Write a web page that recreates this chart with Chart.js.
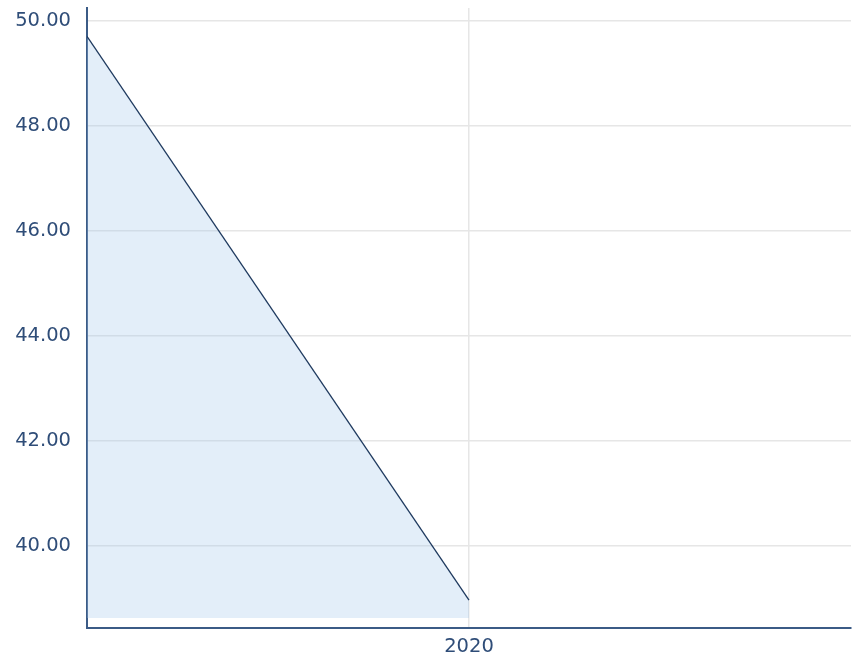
<!DOCTYPE html>
<html>
<head>
<meta charset="utf-8">
<script src="https://cdn.jsdelivr.net/npm/chart.js@4"></script>
<style>
  html, body { margin: 0; padding: 0; background: #fff; }
  #wrap { width: 854px; height: 661px; }
</style>
</head>
<body>
<div id="wrap"><canvas id="chart"></canvas></div>
<script>
// data
const years = [2019, 2020];
const values = [49.71, 38.97];
const yTicks = [40, 42, 44, 46, 48, 50];
const xTicks = [2020];

const axisColor = "#3b5b86";
const textColor = "#2f4d78";

const ctx = document.getElementById("chart").getContext("2d");
new Chart(ctx, {
  type: "line",
  data: {
    datasets: [{
      data: years.map((y, i) => ({ x: y, y: values[i] })),
      borderColor: "#1f3a5f",
      borderWidth: 1.3,
      backgroundColor: "rgba(162,198,235,0.3)",
      fill: { value: 38.63 },
      pointRadius: 0,
      tension: 0
    }]
  },
  options: {
    responsive: true,
    maintainAspectRatio: false,
    animation: false,
    layout: { padding: { top: 8, right: 3, left: 0, bottom: 0 } },
    plugins: { legend: { display: false }, tooltip: { enabled: false } },
    scales: {
      x: {
        type: "linear",
        min: 2019,
        max: 2021,
        afterBuildTicks: s => { s.ticks = xTicks.map(v => ({ value: v })); },
        afterFit: s => { s.height = 33; s.paddingLeft = 0; s.paddingRight = 0; },
        grid: { color: "#e6e6e6", lineWidth: 1.5, drawTicks: false },
        border: { color: axisColor, width: 2 },
        ticks: {
          color: textColor,
          padding: 7,
          font: { family: "DejaVu Sans", size: 19.5 },
          callback: v => String(v)
        }
      },
      y: {
        min: 38.44,
        max: 50.25,
        afterBuildTicks: s => { s.ticks = yTicks.map(v => ({ value: v })); },
        afterFit: s => { s.width = 87; s.paddingTop = 0; s.paddingBottom = 0; },
        grid: { color: "#e6e6e6", lineWidth: 1.5, drawTicks: false },
        border: { color: axisColor, width: 2 },
        ticks: {
          color: textColor,
          padding: 16,
          font: { family: "DejaVu Sans", size: 19.5 },
          callback: v => v.toFixed(2)
        }
      }
    }
  }
});
</script>
</body>
</html>
